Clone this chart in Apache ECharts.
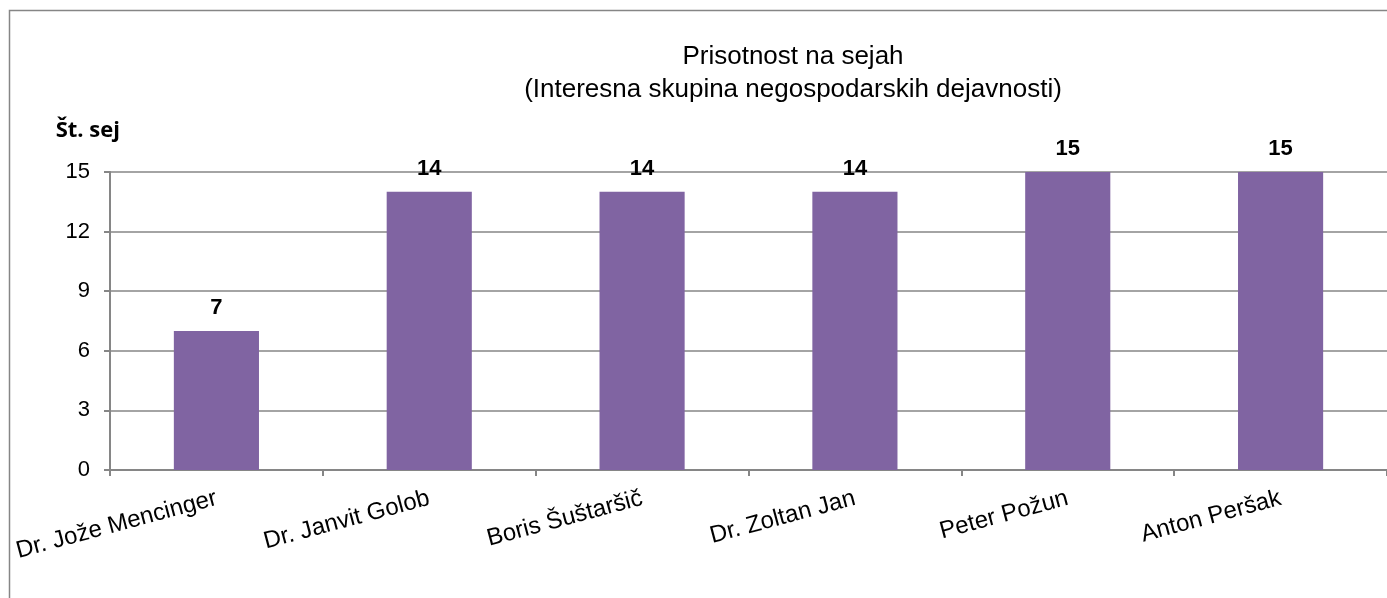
<!DOCTYPE html>
<html><head><meta charset="utf-8">
<script src="https://cdn.jsdelivr.net/npm/echarts@6/dist/echarts.min.js"></script>
<style>html,body{margin:0;padding:0;background:#fff}#c{width:1387px;height:598px}</style>
</head><body><div id="c"></div>
<script>
const categories = ['Dr. Jože Mencinger','Dr. Janvit Golob','Boris Šuštaršič','Dr. Zoltan Jan','Peter Požun','Anton Peršak'];
const values = [7,14,14,14,15,15];
const titleLines = ['Prisotnost na sejah','(Interesna skupina negospodarskih dejavnosti)'];
const yName = 'Št. sej';

const chart = echarts.init(document.getElementById('c'));
chart.setOption({
  animation:false,
  backgroundColor:'#fff',
  graphic:[{type:'rect',shape:{x:9.5,y:10.5,width:1400,height:600},style:{fill:'none',stroke:'#868686',lineWidth:1.5},silent:true}],
  title:{text:titleLines.join('\n'),left:788,top:35,textAlign:'center',
    textStyle:{fontFamily:'Liberation Sans',fontWeight:'normal',fontSize:26,color:'#000',lineHeight:33}},
  grid:{left:110,right:-2,top:172,bottom:128,containLabel:false},
  xAxis:{type:'category',data:categories,
    axisLine:{lineStyle:{color:'#868686',width:2}},
    axisTick:{show:true,length:6,lineStyle:{color:'#868686',width:2}},
    axisLabel:{rotate:15,margin:28,fontFamily:'Liberation Sans',fontSize:24,color:'#000'}},
  yAxis:{type:'value',min:0,max:15,interval:3,
    name:yName,nameLocation:'end',nameGap:30,
    nameTextStyle:{fontFamily:'Open Sans',fontWeight:'bold',fontSize:22,color:'#000',align:'right',padding:[0,-10,0,0]},
    axisLine:{show:true,lineStyle:{color:'#868686',width:2}},
    axisTick:{show:true,length:6,lineStyle:{color:'#868686',width:2}},
    splitLine:{lineStyle:{color:'#868686',width:1.5}},
    axisLabel:{margin:20,fontFamily:'Liberation Sans',fontSize:22,color:'#000'}},
  series:[{type:'bar',data:values,barWidth:'40%',itemStyle:{color:'#8064A2'},
    label:{show:true,position:'top',distance:12,fontFamily:'Liberation Sans',fontWeight:'bold',fontSize:22,color:'#000'}}]
});
</script></body></html>
